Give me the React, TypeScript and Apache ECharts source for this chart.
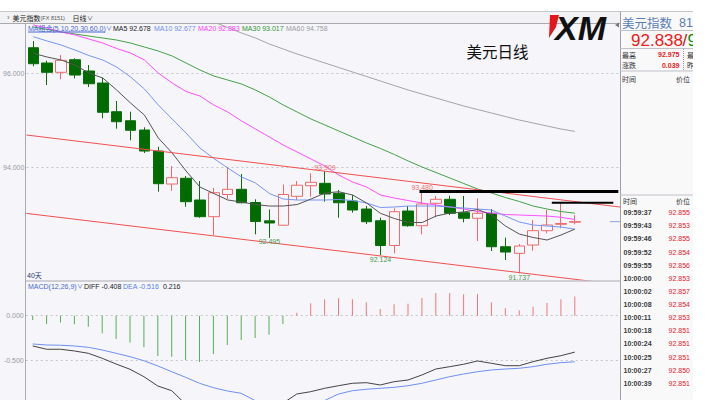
import React, { useEffect, useRef } from "react";
import * as echarts from "echarts";

// ---------- data ----------
const slots = Array.from({ length: 43 }, (_, i) => `D${i + 1}`);

const opens = [96.538, 96.213, 96.015, 96.283, 96.043, 95.787, 95.177, 94.985, 94.787, 94.34, 93.638, 93.76, 93.298, 92.943, 93.415, 93.526, 93.245, 92.855, 92.762, 93.377, 93.602, 93.653, 93.44, 93.277, 93.106, 92.857, 92.33, 93.064, 92.751, 93.228, 93.313, 93.028, 92.909, 93.015, 92.304, 92.164, 92.34, 92.645, 92.781, 92.825];
const closes = [96.198, 96.015, 96.27, 95.957, 95.772, 95.164, 94.964, 94.781, 94.34, 93.645, 93.772, 93.262, 92.943, 93.453, 93.526, 93.24, 92.84, 92.809, 93.415, 93.613, 93.674, 93.426, 93.24, 93.085, 92.836, 92.33, 93.049, 92.751, 93.213, 93.313, 93.015, 92.909, 93.015, 92.304, 92.191, 92.319, 92.645, 92.766, 92.799, 92.838];
const lows = [96.143, 95.745, 95.866, 95.887, 95.702, 95.036, 94.815, 94.568, 94.298, 93.474, 93.496, 93.155, 92.921, 92.553, 93.319, 93.228, 92.568, 92.495, 92.745, 93.298, 93.368, 93.262, 92.921, 93.028, 92.787, 92.124, 92.164, 92.73, 92.568, 92.93, 92.979, 92.823, 92.426, 92.213, 92.021, 91.737, 92.219, 92.589, 92.696, 92.781];
const highs = [96.681, 96.262, 96.383, 96.313, 96.17, 95.9, 95.404, 95.177, 94.845, 94.432, 94.021, 93.809, 93.702, 93.553, 94.0, 93.851, 93.313, 93.096, 93.628, 93.702, 93.866, 93.909, 93.511, 93.404, 93.17, 92.921, 93.121, 93.17, 93.48, 93.383, 93.389, 93.383, 93.334, 93.106, 92.496, 92.362, 92.872, 93.085, 93.24, 92.975];

const ma5 = [96.419, 96.34, 96.277, 96.17, 96.0, 95.894, 95.638, 95.362, 95.106, 94.617, 94.298, 93.915, 93.574, 93.436, 93.298, 93.255, 93.202, 93.17, 93.17, 93.202, 93.319, 93.447, 93.474, 93.404, 93.234, 93.015, 92.904, 92.819, 92.819, 92.957, 93.021, 93.043, 93.096, 92.979, 92.745, 92.574, 92.5, 92.447, 92.553, 92.678];
const ma10 = [96.772, 96.681, 96.596, 96.489, 96.372, 96.277, 96.128, 95.915, 95.66, 95.319, 95.021, 94.723, 94.404, 94.181, 93.979, 93.787, 93.66, 93.436, 93.319, 93.298, 93.298, 93.298, 93.309, 93.287, 93.234, 93.138, 93.149, 93.17, 93.17, 93.17, 93.149, 93.128, 93.106, 93.085, 92.957, 92.83, 92.766, 92.745, 92.723, 92.677];
const ma20 = [97.021, 96.957, 96.872, 96.809, 96.723, 96.638, 96.521, 96.426, 96.277, 96.0, 95.787, 95.606, 95.511, 95.319, 95.17, 94.979, 94.809, 94.638, 94.468, 94.319, 94.17, 94.021, 93.83, 93.681, 93.574, 93.404, 93.34, 93.287, 93.234, 93.191, 93.149, 93.106, 93.053, 93.021, 92.989, 92.979, 92.968, 92.957, 92.93, 92.883];
const ma30 = [96.979, 96.926, 96.872, 96.83, 96.787, 96.745, 96.702, 96.638, 96.553, 96.468, 96.362, 96.213, 96.064, 95.936, 95.851, 95.766, 95.638, 95.489, 95.319, 95.17, 95.021, 94.894, 94.766, 94.638, 94.511, 94.394, 94.266, 94.128, 94.0, 93.883, 93.766, 93.649, 93.532, 93.447, 93.351, 93.266, 93.17, 93.106, 93.053, 93.017];
const ma60 = [null, null, null, null, null, null, null, null, null, null, null, null, 97.191, 97.085, 96.968, 96.851, 96.745, 96.617, 96.511, 96.404, 96.309, 96.213, 96.117, 96.021, 95.926, 95.83, 95.734, 95.638, 95.553, 95.468, 95.383, 95.298, 95.223, 95.149, 95.074, 95.0, 94.936, 94.872, 94.809, 94.758];

const macdHist = [-0.049, -0.093, -0.075, -0.097, -0.123, -0.198, -0.261, -0.299, -0.354, -0.451, -0.459, -0.496, -0.519, -0.429, -0.328, -0.272, -0.25, -0.213, -0.093, 0.034, 0.138, 0.183, 0.194, 0.183, 0.149, 0.075, 0.127, 0.134, 0.198, 0.254, 0.254, 0.239, 0.243, 0.149, 0.082, 0.06, 0.101, 0.142, 0.183, 0.216];
const diffLine = [-0.339, -0.376, -0.376, -0.395, -0.421, -0.477, -0.541, -0.6, -0.683, -0.787, -0.84, -0.99, -1.05, -1.06, -1.05, -1.04, -1.04, -1.03, -0.98, -0.877, -0.851, -0.813, -0.784, -0.757, -0.75, -0.776, -0.739, -0.72, -0.664, -0.597, -0.571, -0.544, -0.507, -0.533, -0.56, -0.56, -0.515, -0.477, -0.448, -0.408];
const deaLine = [-0.317, -0.328, -0.331, -0.339, -0.354, -0.384, -0.421, -0.459, -0.504, -0.563, -0.627, -0.69, -0.757, -0.806, -0.843, -0.869, -0.95, -0.97, -0.98, -0.98, -0.97, -0.95, -0.877, -0.84, -0.824, -0.813, -0.802, -0.784, -0.757, -0.72, -0.683, -0.653, -0.627, -0.608, -0.597, -0.589, -0.571, -0.544, -0.526, -0.516];

// drawn lines (x = category position, y = price)
const upperTrend = [[-0.5, 94.681], [42.5, 93.14]];
const lowerTrend = [[-0.5, 93.013], [42.5, 91.487]];
const resistanceHigh = [[27.81, 93.48], [42.13, 93.48]];
const resistanceLow = [[37.34, 93.24], [41.77, 93.24]];
const lastPriceTick = [[41.53, 92.838], [42.25, 92.838]];

const tickTimes = ["09:59:37", "09:59:43", "09:59:46", "09:59:52", "09:59:55", "10:00:00", "10:00:02", "10:00:08", "10:00:11", "10:00:18", "10:00:24", "10:00:25", "10:00:27", "10:00:39"];
const tickPrices = ["92.855", "92.853", "92.855", "92.854", "92.856", "92.853", "92.857", "92.854", "92.853", "92.851", "92.851", "92.851", "92.850", "92.851"];

const mainGridValues = [94, 96];
const macdGridValues = [0, -0.5];

// ---------- layout / style ----------
const LATIN = "Liberation Sans, Arial, sans-serif";
const MIX = "Liberation Sans, Noto Sans CJK SC, sans-serif";
const CJK = "Noto Sans CJK SC, sans-serif";
const GL = 25.75;
const GW = 43 * 13.9;
const HI = "#e8706c";
const LO = "#4a9a4a";

function txt(text: string, x: number, y: number, o: any = {}) {
  return {
    type: "text",
    x,
    y,
    z: o.z ?? 105,
    silent: true,
    style: {
      text,
      fill: o.color ?? "#222",
      fontSize: o.size ?? 7,
      fontFamily: o.family ?? MIX,
      fontWeight: o.weight ?? "normal",
      fontStyle: o.style ?? "normal",
      align: o.align ?? "left",
      verticalAlign: "middle",
      textAlign: o.align ?? "left",
      textVerticalAlign: "middle",
    },
  };
}
function ln(x1: number, y1: number, x2: number, y2: number, color: string, z = 102, dash?: number[]) {
  return {
    type: "line",
    z,
    silent: true,
    shape: { x1, y1, x2, y2 },
    style: { stroke: color, lineWidth: 1, lineDash: dash },
  };
}
function rc(x: number, y: number, w: number, h: number, fill: string, z = 100) {
  return { type: "rect", z, silent: true, shape: { x, y, width: w, height: h }, style: { fill } };
}

function buildGraphics() {
  const g: any[] = [];
  g.push(rc(0, 0, 709, 11.5, "#ffffff"));
  g.push(rc(0, 11.5, 620, 12, "#f2f2f4"));
  g.push(ln(0, 11.5, 693, 11.5, "#c8c8cc"));
  g.push(ln(0, 23.5, 620, 23.5, "#a9a9b0"));
  g.push(ln(25.5, 23.5, 25.5, 400, "#a9a9b0"));
  g.push(ln(25.5, 281, 620, 281, "#a9a9b0"));

  // toolbar
  g.push(txt("›", 7, 17.3, { size: 8, color: "#666" }));
  g.push(txt("美元指数", 12.5, 17.5, { family: CJK }));
  g.push(txt("(FX 8151)", 40.5, 17.7, { size: 5.5, color: "#555" }));
  g.push(txt("日线", 72.5, 17.5, { family: CJK }));
  g.push(txt("∨", 87, 17.5, { size: 6, color: "#444" }));

  // MA legend
  const legY = 28.3;
  g.push(txt("MA组合(5,10,20,30,60,0)", 28, legY, { color: "#4a6ad0" }));
  g.push(ln(28, 32, 105, 32, "#4a6ad0", 105));
  g.push(txt("∨", 106, legY, { size: 6, color: "#4a6ad0" }));
  g.push(txt(`MA5 ${ma5[39].toFixed(3)}`, 113, legY, { color: "#222" }));
  g.push(txt(`MA10 ${ma10[39].toFixed(3)}`, 154, legY, { color: "#6f8ff0" }));
  g.push(txt(`MA20 ${ma20[39].toFixed(3)}`, 198, legY, { color: "#ff3cff" }));
  g.push(txt(`MA30 ${ma30[39].toFixed(3)}`, 242, legY, { color: "#2f962f" }));
  g.push(txt(`MA60 ${(ma60[39] as number).toFixed(3)}`, 286, legY, { color: "#9c9c9c" }));

  g.push(txt("40天", 27, 275.5, { color: "#2a3b70" }));

  // MACD legend
  const mY = 286.3;
  g.push(txt("MACD(12,26,9)", 28, mY, { color: "#4a6ad0" }));
  g.push(txt("∨", 77, mY, { size: 6, color: "#4a6ad0" }));
  g.push(txt(`DIFF ${diffLine[39].toFixed(3)}`, 84, mY, { color: "#222" }));
  g.push(txt(`DEA ${deaLine[39].toFixed(3)}`, 123, mY, { color: "#5a7de8" }));
  g.push(txt(macdHist[39].toFixed(3), 163, mY, { color: "#222" }));

  // title + logo
  g.push(txt("美元日线", 497.5, 50.5, { family: CJK, size: 15.5, color: "#111", align: "center" }));
  g.push({
    type: "polygon",
    z: 105,
    silent: true,
    shape: { points: [[550, 15], [559, 15], [556, 27], [549, 38]] },
    style: { fill: "#e3161c" },
  });
  g.push(txt("XM", 555, 27.5, { family: LATIN, size: 34, weight: 900, style: "italic", color: "#111" }));

  // right panel
  g.push(rc(620, 11.5, 73, 388.5, "#f9f9fa", 100));
  g.push(ln(620.5, 11.5, 620.5, 400, "#a0a0a8", 103));
  g.push({ type: "polygon", z: 106, silent: true, shape: { points: [[615, 25], [619, 22.5], [619, 27.5]] }, style: { fill: "#777" } });
  g.push(txt("美元指数", 622, 22.5, { family: CJK, size: 12.5, color: "#5b7db8" }));
  g.push(txt("81", 679, 22.5, { family: LATIN, size: 12.5, color: "#5b7db8" }));
  g.push(ln(620, 30.5, 693, 30.5, "#c0c0c8", 103));
  g.push(txt(closes[39].toFixed(3), 631, 40, { family: LATIN, size: 17, color: "#f01818" }));
  g.push(txt("/", 682.5, 40, { family: LATIN, size: 17, color: "#c02020" }));
  g.push(txt("9", 687.5, 40, { family: LATIN, size: 17, color: "#138a13" }));
  g.push(ln(620, 48.5, 693, 48.5, "#c0c0c8", 103));
  g.push(txt("最高", 622, 54.5, { family: CJK, color: "#333" }));
  g.push(txt(highs[39].toFixed(3), 679.5, 54.5, { family: LATIN, color: "#e81c1c", weight: "bold", align: "right" }));
  g.push(txt("最", 687, 54.5, { family: CJK, color: "#333" }));
  g.push(txt("涨跌", 622, 65, { family: CJK, color: "#333" }));
  g.push(txt((closes[39] - closes[38]).toFixed(3), 679.5, 65, { family: LATIN, color: "#e81c1c", weight: "bold", align: "right" }));
  g.push(txt("昨", 687, 65, { family: CJK, color: "#333" }));
  g.push(ln(683.5, 49, 683.5, 71, "#999", 103, [1, 1]));
  g.push(ln(620, 71, 693, 71, "#c0c0c8", 103));
  g.push(txt("时间", 622, 79, { family: CJK, color: "#333" }));
  g.push(txt("价位", 690, 79, { family: CJK, color: "#333", align: "right" }));

  g.push(ln(620, 195, 693, 195, "#c0c0c8", 103));
  g.push(txt("时间", 623, 200.5, { family: CJK, color: "#333" }));
  g.push(txt("价位", 690, 200.5, { family: CJK, color: "#333", align: "right" }));
  tickTimes.forEach((t, i) => {
    const y = 212.7 + 13.12 * i;
    g.push(txt(t, 623.5, y, { family: LATIN, color: "#3a3a3a", weight: "bold" }));
    g.push(txt(tickPrices[i], 690, y, { family: LATIN, color: "#e8202a", align: "right" }));
  });

  g.push(rc(693, 0, 16, 400, "#ffffff", 120));
  return g;
}

function buildOption() {
  const candleData = opens.map((o, i) => [o, closes[i], lows[i], highs[i]]);
  const mark = (i: number, v: number, top: boolean) => ({
    coord: [i, v],
    value: v,
    label: { position: top ? "top" : "bottom", distance: 0, color: top ? HI : LO },
  });
  const annot = (data: number[][], color: string, width: number) => ({
    type: "line",
    xAxisIndex: 2,
    yAxisIndex: 0,
    data,
    symbol: "none",
    silent: true,
    z: 4,
    lineStyle: { color, width },
  });
  const maLine = (data: any[], color: string) => ({
    type: "line",
    xAxisIndex: 0,
    yAxisIndex: 0,
    data,
    symbol: "none",
    silent: true,
    z: 3,
    lineStyle: { color, width: 1 },
  });
  return {
    animation: false,
    backgroundColor: "#f5f5fa",
    textStyle: { fontFamily: LATIN },
    grid: [
      { left: GL, top: 24, width: GW, height: 256 },
      { left: GL, top: 282, width: GW, height: 118 },
    ],
    xAxis: [
      { type: "category", gridIndex: 0, data: slots, show: false },
      { type: "category", gridIndex: 1, data: slots, show: false },
      { type: "value", gridIndex: 0, min: -0.5, max: 42.5, show: false },
    ],
    yAxis: [
      {
        type: "value",
        gridIndex: 0,
        min: 91.596,
        max: 97.043,
        axisLine: { show: false },
        axisTick: { show: false, customValues: mainGridValues },
        axisLabel: { customValues: mainGridValues, formatter: (v: number) => v.toFixed(3), color: "#9a9aa2", fontSize: 7, fontFamily: LATIN, margin: 2 },
        splitLine: { show: true, lineStyle: { color: "#c4c4cc", type: [2, 3], width: 1 } },
      },
      {
        type: "value",
        gridIndex: 1,
        min: -0.944,
        max: 0.377,
        axisLine: { show: false },
        axisTick: { show: false, customValues: macdGridValues },
        axisLabel: { customValues: macdGridValues, formatter: (v: number) => v.toFixed(3), color: "#9a9aa2", fontSize: 7, fontFamily: LATIN, margin: 2 },
        splitLine: { show: true, lineStyle: { color: "#c4c4cc", type: [2, 3], width: 1 } },
      },
    ],
    graphic: { elements: buildGraphics() },
    series: [
      {
        type: "candlestick",
        xAxisIndex: 0,
        yAxisIndex: 0,
        data: candleData,
        barWidth: 11,
        z: 2,
        silent: true,
        itemStyle: { color: "#f7f7fb", color0: "#006b00", borderColor: "#ef6a6a", borderColor0: "#0b6e0b", borderWidth: 1 },
        markPoint: {
          symbol: "circle",
          symbolSize: 1,
          silent: true,
          itemStyle: { color: "rgba(0,0,0,0)" },
          label: { show: true, fontSize: 7, fontFamily: LATIN, formatter: (p: any) => Number(p.value).toFixed(3) },
          data: [
            mark(21, highs[21], true),
            mark(28, highs[28], true),
            mark(17, lows[17], false),
            mark(25, lows[25], false),
            mark(35, lows[35], false),
          ],
        },
      },
      maLine(ma60, "#a4a4a8"),
      maLine(ma30, "#46a046"),
      maLine(ma20, "#ff50ff"),
      maLine(ma10, "#7896f0"),
      maLine(ma5, "#555555"),
      annot(upperTrend, "#f05050", 1),
      annot(lowerTrend, "#f05050", 1),
      annot(resistanceHigh, "#000000", 3),
      annot(resistanceLow, "#000000", 2),
      annot(lastPriceTick, "#8ea0e0", 1),
      {
        type: "bar",
        xAxisIndex: 1,
        yAxisIndex: 1,
        barWidth: 1,
        silent: true,
        data: macdHist.map((v) => ({ value: v, itemStyle: { color: v >= 0 ? "#f07878" : "#55b055" } })),
      },
      { type: "line", xAxisIndex: 1, yAxisIndex: 1, data: deaLine, symbol: "none", silent: true, lineStyle: { color: "#6f8ff0", width: 1 } },
      { type: "line", xAxisIndex: 1, yAxisIndex: 1, data: diffLine, symbol: "none", silent: true, lineStyle: { color: "#444444", width: 1 } },
    ],
  };
}

export default function App() {
  const ref = useRef<HTMLDivElement>(null);
  useEffect(() => {
    if (!ref.current) return;
    const chart = echarts.init(ref.current, null, { renderer: "svg", width: 709, height: 400 });
    chart.setOption(buildOption() as any);
    return () => chart.dispose();
  }, []);
  return <div ref={ref} style={{ position: "fixed", left: 0, top: 0, width: 709, height: 400 }} />;
}
